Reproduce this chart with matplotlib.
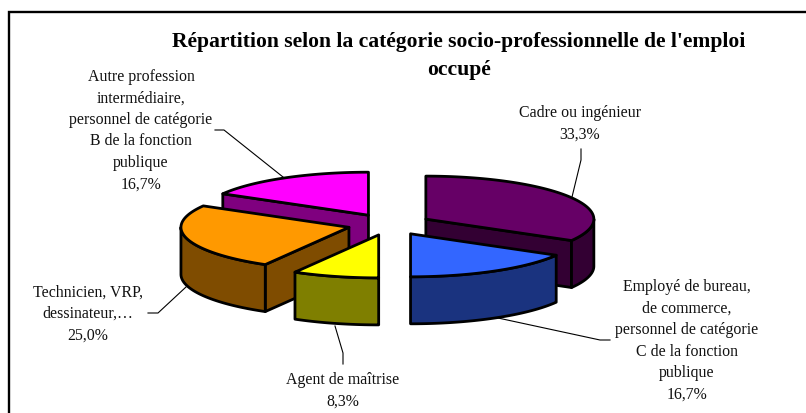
import numpy as np
import matplotlib
matplotlib.use("Agg")
import matplotlib.pyplot as plt
from matplotlib.patches import Polygon, Rectangle

plt.rcParams['font.family'] = ['Liberation Serif', 'DejaVu Serif']

title = "Répartition selon la catégorie socio-professionnelle de l'emploi\noccupé"
shares = [33.3, 16.7, 8.3, 25.0, 16.7]
share_labels = ["33,3%", "16,7%", "8,3%", "25,0%", "16,7%"]
labels = ["Cadre ou ingénieur",
          "Employé de bureau,\nde commerce,\npersonnel de catégorie\nC de la fonction\npublique",
          "Agent de maîtrise",
          "Technicien, VRP,\ndessinateur,…",
          "Autre profession\nintermédiaire,\npersonnel de catégorie\nB de la fonction\npublique"]
top_colors = ["#660066", "#3366ff", "#ffff00", "#ff9900", "#ff00ff"]
side_colors = ["#330033", "#1a337f", "#7f7f00", "#7f4c00", "#7f007f"]

# pixel layout of the 3d pie
cx, cy = 389.5, 225.5
rx, ry = 168, 43
depth = 47
explode = 0.25


def pt(a, cen, r=1.0):
    a = np.radians(a)
    return cen[0] + r * rx * np.sin(a), cen[1] - r * ry * np.cos(a)


def arc(a0, a1, cen, dy=0):
    t = np.linspace(a0, a1, 80)
    x, y = pt(t, cen)
    return np.column_stack([x, y + dy])


fig = plt.figure(figsize=(8.06, 4.14), dpi=100)
ax = fig.add_axes([0, 0, 1, 1])
ax.set_xlim(0, 806)
ax.set_ylim(414, 0)
ax.axis("off")

# chart frame runs off the right and bottom of the picture
ax.add_patch(Rectangle((8.5, 12.5), 850, 450, fc="white", ec="black", lw=1.7))

# wedge angles clockwise from 12 o'clock
edges = np.concatenate([[0], np.cumsum(shares)]) * 3.6
edges[-1] = 360
cens = []
for i in range(len(shares)):
    mid = (edges[i] + edges[i + 1]) / 2
    cens.append(pt(mid, (cx, cy), explode))

lw = 2.0


def side(points, col, z):
    ax.add_patch(Polygon(points, closed=True, fc=col, ec="black", lw=lw, joinstyle="round", zorder=z))


def wedge_top(i, z):
    a0, a1 = edges[i], edges[i + 1]
    p = np.vstack([[cens[i]], arc(a0, a1, cens[i])])
    ax.add_patch(Polygon(p, closed=True, fc=top_colors[i], ec="black", lw=lw, joinstyle="round", zorder=z))


def radial_face(i, a, z):
    c = np.array(cens[i])
    e = np.array(pt(a, cens[i]))
    d = np.array([0, depth])
    side([c, e, e + d, c + d], side_colors[i], z)


def rim_face(i, a0, a1, z):
    up = arc(a0, a1, cens[i])
    down = arc(a1, a0, cens[i], depth)
    side(np.vstack([up, down]), side_colors[i], z)


# back to front: magenta, orange, yellow, purple, blue
radial_face(4, edges[4], 2)
wedge_top(4, 3)
radial_face(3, edges[3], 4)
rim_face(3, edges[3], 270, 4)
wedge_top(3, 5)
rim_face(2, edges[2], edges[3], 6)
wedge_top(2, 7)
radial_face(0, edges[1], 2)
rim_face(0, 90, edges[1], 2)
wedge_top(0, 3)
rim_face(1, edges[1], edges[2], 6)
wedge_top(1, 7)

ax.text(458.5, 56, title, ha="center", va="center", fontsize=15.6, fontweight="bold", linespacing=1.47)

# labels and leader lines
fs = 11.4
label_xy = [(580, 123.5), (687, 341), (343, 391), (88, 314), (141, 130.5)]
leaders = [[(581, 150), (581, 161), (572, 198)],
           [(610, 341), (600, 341), (498, 319)],
           [(343, 365), (343, 354), (335, 327)],
           [(148, 314), (158, 314), (186, 288)],
           [(215, 131), (224, 131), (283, 178)]]
for i in range(len(shares)):
    ax.text(label_xy[i][0], label_xy[i][1], labels[i] + "\n" + share_labels[i], ha="center", va="center",
            fontsize=fs, linespacing=1.46, color="#111111", zorder=8)
    xs, ys = zip(*leaders[i])
    ax.plot(xs, ys, color="black", lw=0.8, zorder=1)

fig.savefig("out.png", dpi=100)
